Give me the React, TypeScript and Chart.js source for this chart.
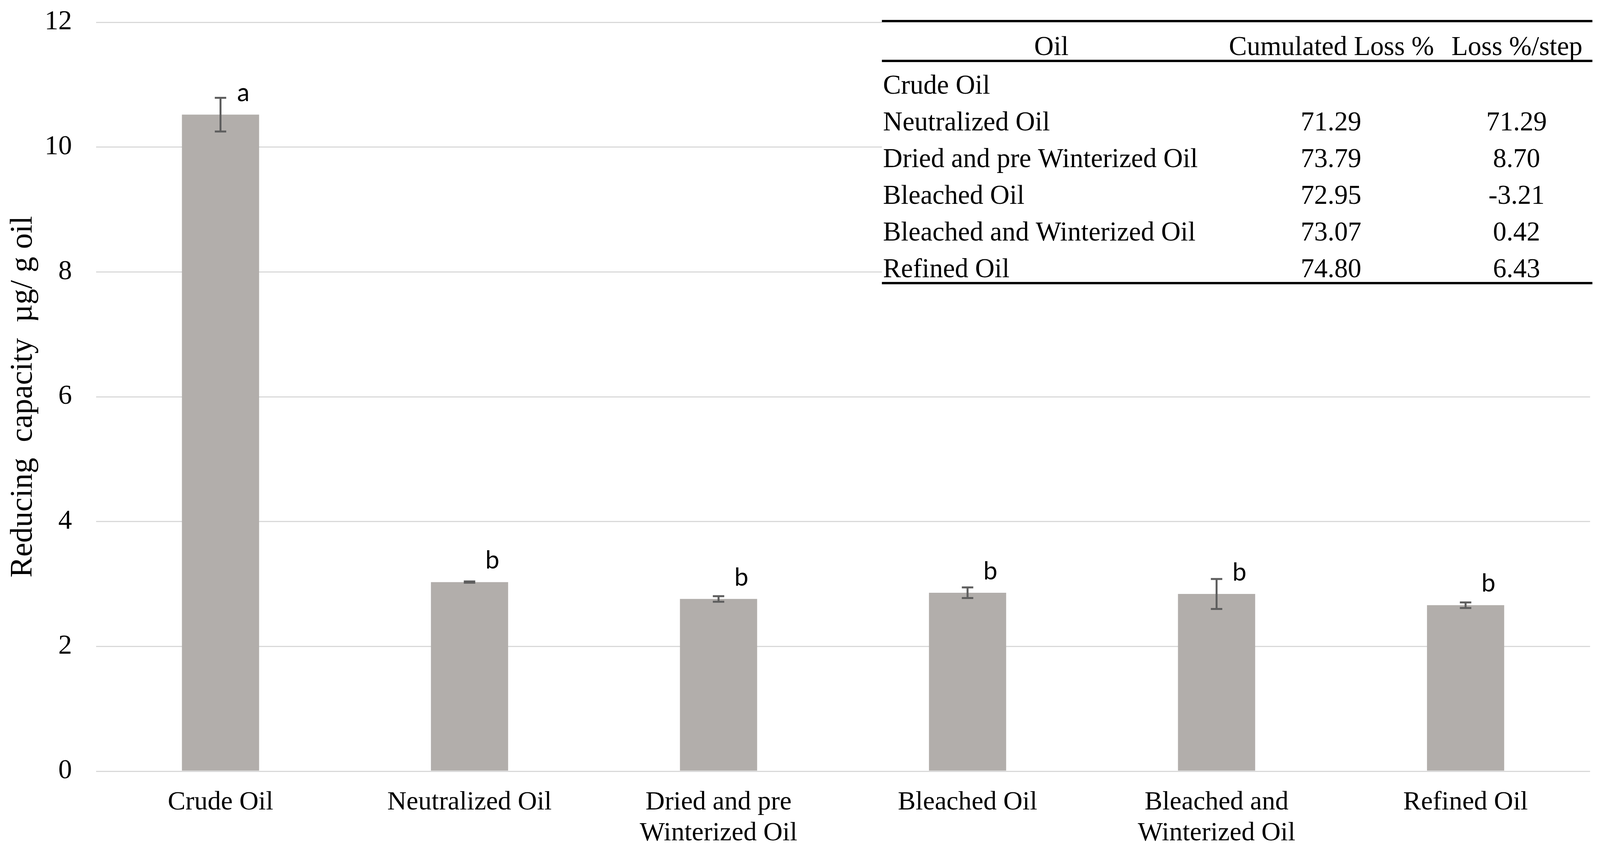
import React, { useEffect, useRef } from "react";
import { Chart, registerables } from "chart.js";

Chart.register(...registerables);

const categories: (string | string[])[] = [
  "Crude Oil",
  "Neutralized Oil",
  ["Dried and pre", "Winterized Oil"],
  "Bleached Oil",
  ["Bleached and", "Winterized Oil"],
  "Refined Oil",
];
const reducingCapacity = [10.52, 3.03, 2.76, 2.86, 2.84, 2.66];
const errorValues = [0.27, 0.01, 0.045, 0.085, 0.24, 0.045];
const significanceLetters = ["a", "b", "b", "b", "b", "b"];
const yTicks = [0, 2, 4, 6, 8, 10, 12];

const tableHeader = ["Oil", "Cumulated Loss %", "Loss %/step"];
const tableOils = [
  "Crude Oil",
  "Neutralized Oil",
  "Dried and pre Winterized Oil",
  "Bleached Oil",
  "Bleached and Winterized Oil",
  "Refined Oil",
];
const cumulatedLoss = ["", "71.29", "73.79", "72.95", "73.07", "74.80"];
const lossPerStep = ["", "71.29", "8.70", "-3.21", "0.42", "6.43"];

const SERIF = "'Liberation Serif', 'Times New Roman', serif";
const REF_W = 4200;
const REF_H = 2187;

const errorBarPlugin = {
  id: "errorBars",
  afterDatasetsDraw(chart: any) {
    const ctx = chart.ctx;
    const sx = chart.width / REF_W;
    const sy = chart.height / REF_H;
    const meta = chart.getDatasetMeta(0);
    const y = chart.scales.y;
    ctx.save();
    ctx.strokeStyle = "#5e5e5e";
    ctx.lineWidth = 5;
    meta.data.forEach((bar: any, i: number) => {
      const v = reducingCapacity[i];
      const e = errorValues[i];
      const yTop = y.getPixelForValue(v + e);
      const yBot = y.getPixelForValue(v - e);
      const x = bar.x;
      const cap = 15 * sx;
      ctx.beginPath();
      ctx.moveTo(x, yTop);
      ctx.lineTo(x, yBot);
      ctx.moveTo(x - cap, yTop);
      ctx.lineTo(x + cap, yTop);
      ctx.moveTo(x - cap, yBot);
      ctx.lineTo(x + cap, yBot);
      ctx.stroke();
    });
    ctx.fillStyle = "#000";
    ctx.font = "64px Lato, 'Open Sans', sans-serif";
    ctx.textAlign = "center";
    ctx.textBaseline = "middle";
    meta.data.forEach((bar: any, i: number) => {
      ctx.fillText(significanceLetters[i], bar.x + 60 * sx, bar.y - 55 * sy);
    });
    ctx.restore();
  },
};

const tablePlugin = {
  id: "lossTable",
  afterDraw(chart: any) {
    const ctx = chart.ctx;
    const sx = chart.width / REF_W;
    const sy = chart.height / REF_H;
    const left = 2315 * sx;
    const right = 4180 * sx;
    ctx.save();
    ctx.fillStyle = "#fff";
    ctx.fillRect(left, 40 * sy, right - left, 700 * sy);
    ctx.strokeStyle = "#000";
    ctx.lineWidth = 6;
    [54, 156, 725].forEach((yy) => {
      ctx.beginPath();
      ctx.moveTo(left, yy * sy);
      ctx.lineTo(right, yy * sy);
      ctx.stroke();
    });
    ctx.fillStyle = "#000";
    ctx.font = `${Math.round(71 * sx)}px ${SERIF}`;
    ctx.textBaseline = "alphabetic";
    ctx.textAlign = "center";
    ctx.fillText(tableHeader[0], 2760 * sx, 141 * sy);
    ctx.fillText(tableHeader[1], 3495 * sx, 141 * sy);
    ctx.fillText(tableHeader[2], 3982 * sx, 141 * sy);
    tableOils.forEach((name, i) => {
      const yy = (240 + i * 94) * sy;
      ctx.textAlign = "left";
      ctx.fillText(name, 2318 * sx, yy);
      ctx.textAlign = "center";
      if (cumulatedLoss[i]) ctx.fillText(cumulatedLoss[i], 3494 * sx, yy);
      if (lossPerStep[i]) ctx.fillText(lossPerStep[i], 3981 * sx, yy);
    });
    ctx.restore();
  },
};

export default function App() {
  const canvasRef = useRef<HTMLCanvasElement | null>(null);
  const boxRef = useRef<HTMLDivElement | null>(null);

  useEffect(() => {
    document.body.style.margin = "0";
    document.body.style.overflow = "hidden";
    const canvas = canvasRef.current;
    const box = boxRef.current;
    if (!canvas || !box) return;
    const W = box.clientWidth;
    const H = box.clientHeight;
    const sx = W / REF_W;
    const sy = H / REF_H;

    const chart: any = new Chart(canvas, {
      type: "bar",
      data: {
        labels: categories,
        datasets: [
          {
            data: reducingCapacity,
            backgroundColor: "#b2aeab",
            borderWidth: 0,
            barPercentage: 0.31,
            categoryPercentage: 1,
          },
        ],
      },
      options: {
        animation: false,
        responsive: true,
        maintainAspectRatio: false,
        layout: {
          padding: { top: 57 * sy, right: 26 * sx, left: 0, bottom: 0 },
        },
        plugins: {
          legend: { display: false },
          tooltip: { enabled: false },
          title: { display: false },
        },
        scales: {
          x: {
            grid: { display: false, drawTicks: false },
            border: { display: false },
            ticks: {
              color: "#000",
              padding: 41,
              maxRotation: 0,
              autoSkip: false,
              font: { family: SERIF, size: Math.round(70 * sx), lineHeight: 1.16 },
            },
            afterFit(scale: any) {
              scale.height = 212 * sy;
            },
          },
          y: {
            min: 0,
            max: 12,
            afterBuildTicks(scale: any) {
              scale.ticks = yTicks.map((v) => ({ value: v }));
            },
            grid: { color: "#d9d9d9", lineWidth: 3, drawTicks: false },
            border: { display: false },
            ticks: {
              color: "#000",
              padding: 63 * sx,
              font: { family: SERIF, size: 70 },
            },
            title: {
              display: true,
              text: "Reducing  capacity  µg/ g oil",
              color: "#000",
              font: { family: SERIF, size: 80 },
              padding: { top: 12, bottom: 0 },
            },
            afterFit(scale: any) {
              scale.width = 252 * sx;
              scale.paddingTop = 0;
              scale.paddingBottom = 0;
            },
          },
        },
      },
      plugins: [errorBarPlugin, tablePlugin],
    });

    return () => chart.destroy();
  }, []);

  return (
    <div
      ref={boxRef}
      style={{ width: "100vw", height: "100vh", position: "relative" }}
    >
      <canvas ref={canvasRef} />
    </div>
  );
}
